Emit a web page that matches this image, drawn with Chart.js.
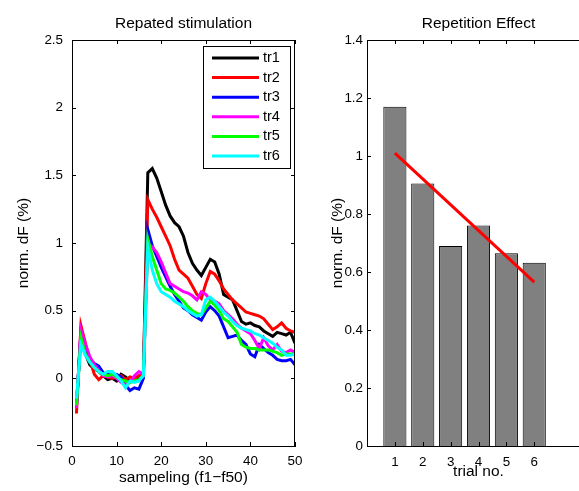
<!DOCTYPE html>
<html>
<head>
<meta charset="utf-8">
<script src="https://cdn.jsdelivr.net/npm/chart.js@4.4.0/dist/chart.umd.min.js"></script>
<style>
  html, body { margin: 0; padding: 0; background: #fff; overflow: hidden; }
  #wrap { position: relative; width: 579px; height: 491px; overflow: hidden; }
  #left { position: absolute; left: 0; top: 0; }
  #right { position: absolute; left: 327px; top: 0; }
</style>
</head>
<body>
<div id="wrap">
  <canvas id="left" width="327" height="491"></canvas>
  <canvas id="right" width="264" height="491"></canvas>
</div>
<script>
// ---- left panel: repeated stimulation traces ----
const frames = [1,2,3,4,5,6,7,8,9,10,11,12,13,14,15,16,17,18,19,20,21,22,23,24,25,
                26,27,28,29,30,31,32,33,34,35,36,37,38,39,40,41,42,43,44,45,46,47,48,49,50];

const tr1 = [-0.20,0.33,0.18,0.10,0.07,0.05,0.02,-0.01,0.00,-0.02,0.03,0.01,-0.02,-0.02,0.00,0.02,
             1.52,1.55,1.48,1.38,1.28,1.20,1.15,1.12,1.05,0.93,0.85,0.80,0.76,0.82,0.88,0.86,0.77,
             0.62,0.60,0.58,0.50,0.42,0.40,0.41,0.39,0.38,0.35,0.33,0.31,0.34,0.33,0.32,0.34,0.26];
const tr2 = [-0.26,0.39,0.26,0.14,0.03,-0.01,0.02,0.01,0.00,0.01,0.02,-0.01,0.01,0.00,0.02,0.03,
             1.32,1.25,1.19,1.12,1.05,0.98,0.88,0.80,0.77,0.74,0.68,0.62,0.59,0.70,0.79,0.77,0.72,
             0.66,0.62,0.58,0.55,0.52,0.49,0.48,0.47,0.46,0.44,0.40,0.36,0.38,0.41,0.37,0.35,0.34];
const tr3 = [-0.20,0.33,0.22,0.14,0.11,0.09,0.04,0.03,0.02,0.03,0.01,-0.05,-0.09,-0.07,-0.08,0.00,
             1.10,0.98,0.90,0.82,0.75,0.68,0.62,0.57,0.52,0.50,0.47,0.45,0.43,0.49,0.53,0.50,0.46,
             0.38,0.30,0.31,0.32,0.28,0.25,0.18,0.16,0.25,0.22,0.19,0.17,0.14,0.13,0.13,0.14,0.10];
const tr4 = [-0.22,0.36,0.25,0.16,0.10,0.06,0.02,0.01,0.02,0.00,-0.03,-0.05,-0.03,0.02,0.05,0.03,
             1.00,0.97,0.93,0.86,0.78,0.70,0.68,0.66,0.64,0.63,0.61,0.58,0.64,0.62,0.58,0.57,0.55,
             0.50,0.47,0.44,0.40,0.37,0.35,0.33,0.28,0.22,0.30,0.24,0.21,0.25,0.20,0.19,0.21,0.19];
const tr5 = [-0.20,0.30,0.18,0.12,0.08,0.05,0.03,0.02,0.03,0.01,-0.01,-0.02,-0.03,-0.02,-0.01,0.02,
             1.03,0.90,0.80,0.70,0.66,0.65,0.63,0.60,0.57,0.53,0.50,0.48,0.47,0.52,0.57,0.54,0.50,
             0.44,0.42,0.38,0.34,0.25,0.23,0.22,0.22,0.21,0.21,0.21,0.20,0.19,0.17,0.18,0.18,0.18];
const tr6 = [-0.15,0.25,0.17,0.12,0.08,0.05,0.03,0.05,0.05,0.02,-0.02,-0.07,-0.02,-0.03,-0.02,0.02,
             0.97,0.80,0.70,0.64,0.62,0.60,0.57,0.55,0.53,0.50,0.48,0.46,0.47,0.58,0.60,0.57,0.53,
             0.49,0.46,0.42,0.39,0.37,0.36,0.35,0.33,0.32,0.30,0.28,0.26,0.23,0.21,0.17,0.17,0.18];

const traceNames = ['tr1', 'tr2', 'tr3', 'tr4', 'tr5', 'tr6'];
const traces = [tr1, tr2, tr3, tr4, tr5, tr6];
const traceColors = ['#000000', '#ff0000', '#0000ff', '#ff00ff', '#00ff00', '#00ffff'];

const leftXTicks = [0, 10, 20, 30, 40, 50];
const leftYTicks = [-0.5, 0, 0.5, 1, 1.5, 2, 2.5];
const leftYLabels = ['\u22120.5', '0', '0.5', '1', '1.5', '2', '2.5'];

// ---- right panel: repetition effect ----
const trials = [1, 2, 3, 4, 5, 6];
const effect = [1.17, 0.905, 0.69, 0.76, 0.665, 0.632];
const fitX = [1, 6];
const fitY = [1.01, 0.565];
const rightYTicks = [0, 0.2, 0.4, 0.6, 0.8, 1, 1.2, 1.4];
const rightYLabels = ['0', '0.2', '0.4', '0.6', '0.8', '1', '1.2', '1.4'];

const FONT = '"Liberation Sans", Arial, sans-serif';
Chart.defaults.font.family = FONT;
Chart.defaults.font.size = 13.4;
Chart.defaults.color = '#000';

const labelFont = { size: 15.5 };

// axes box with inward ticks, like matlab
const matlabBox = {
    id: 'matlabBox',
    afterDatasetsDraw(chart) {
        const { ctx, chartArea: a, scales } = chart;
        const len = 4;
        ctx.save();
        ctx.strokeStyle = '#000';
        ctx.lineWidth = 1;
        ctx.beginPath();
        ctx.moveTo(a.left, a.top + 0.5);
        ctx.lineTo(a.right, a.top + 0.5);
        ctx.moveTo(a.right - 0.5, a.top);
        ctx.lineTo(a.right - 0.5, a.bottom);
        scales.x.ticks.forEach(t => {
            const px = Math.round(scales.x.getPixelForValue(t.value)) + 0.5;
            ctx.moveTo(px, a.bottom); ctx.lineTo(px, a.bottom - len);
            ctx.moveTo(px, a.top); ctx.lineTo(px, a.top + len);
        });
        scales.y.ticks.forEach(t => {
            const py = Math.round(scales.y.getPixelForValue(t.value)) + 0.5;
            ctx.moveTo(a.left, py); ctx.lineTo(a.left + len, py);
            ctx.moveTo(a.right, py); ctx.lineTo(a.right - len, py);
        });
        ctx.stroke();
        ctx.restore();
    }
};

const panelTitle = {
    id: 'panelTitle',
    afterDraw(chart, args, opts) {
        const { ctx, chartArea: a } = chart;
        ctx.save();
        ctx.font = '15.5px ' + FONT;
        ctx.fillStyle = '#000';
        ctx.textAlign = 'center';
        ctx.textBaseline = 'alphabetic';
        ctx.fillText(opts.text, (a.left + a.right) / 2, 28);
        ctx.restore();
    }
};

// boxed legend in the upper right corner
const boxLegend = {
    id: 'boxLegend',
    afterDraw(chart) {
        const { ctx, chartArea: a } = chart;
        const x0 = a.right - 92, y0 = a.top + 6, w = 87, h = 122;
        ctx.save();
        ctx.fillStyle = '#fff';
        ctx.fillRect(x0, y0, w, h);
        ctx.strokeStyle = '#000';
        ctx.lineWidth = 1;
        ctx.strokeRect(x0 + 0.5, y0 + 0.5, w, h);
        ctx.font = '14.5px ' + FONT;
        ctx.textBaseline = 'middle';
        ctx.textAlign = 'left';
        traceNames.forEach((name, i) => {
            const y = y0 + 12 + i * 19.6;
            ctx.strokeStyle = traceColors[i];
            ctx.lineWidth = 3;
            ctx.beginPath();
            ctx.moveTo(x0 + 9, y);
            ctx.lineTo(x0 + 56, y);
            ctx.stroke();
            ctx.fillStyle = '#000';
            ctx.fillText(name, x0 + 60, y);
        });
        ctx.restore();
    }
};

new Chart(document.getElementById('left'), {
    type: 'line',
    data: {
        datasets: traces.map((vals, i) => ({
            label: traceNames[i],
            data: frames.map((f, k) => ({ x: f, y: vals[k] })),
            borderColor: traceColors[i],
            borderWidth: 3,
            pointRadius: 0,
            tension: 0,
            fill: false,
            order: traces.length - i
        }))
    },
    options: {
        responsive: false,
        animation: false,
        layout: { padding: { top: 40, right: 32, bottom: 0, left: 0 } },
        plugins: {
            legend: { display: false },
            tooltip: { enabled: false },
            panelTitle: { text: 'Repated stimulation' }
        },
        scales: {
            x: {
                type: 'linear',
                min: 0,
                max: 50,
                afterBuildTicks: s => { s.ticks = leftXTicks.map(v => ({ value: v })); },
                afterFit: s => { s.height = 45; },
                grid: { display: false, drawTicks: false },
                border: { display: true, color: '#000', width: 1 },
                ticks: { padding: 7, maxRotation: 0, autoSkip: false },
                title: { display: true, text: 'sampeling (f1\u2212f50)', font: labelFont, padding: { top: 0, bottom: 4 } }
            },
            y: {
                min: -0.5,
                max: 2.5,
                afterBuildTicks: s => { s.ticks = leftYTicks.map(v => ({ value: v })); },
                afterFit: s => { s.width = 72; },
                grid: { display: false, drawTicks: false },
                border: { display: true, color: '#000', width: 1 },
                ticks: { padding: 9, callback: (v, i) => leftYLabels[i] },
                title: { display: true, text: 'norm. dF (%)', font: labelFont, padding: { top: 14, bottom: 0 } }
            }
        }
    },
    plugins: [matlabBox, panelTitle, boxLegend]
});

new Chart(document.getElementById('right'), {
    type: 'bar',
    data: {
        datasets: [
            {
                type: 'line',
                data: fitX.map((x, i) => ({ x: x, y: fitY[i] })),
                borderColor: '#ff0000',
                borderWidth: 3,
                pointRadius: 0,
                order: 0
            },
            {
                type: 'bar',
                data: trials.map((t, i) => ({ x: t, y: effect[i] })),
                backgroundColor: '#808080',
                borderColor: '#000',
                borderWidth: 1,
                barPercentage: 0.83,
                categoryPercentage: 1,
                order: 1
            }
        ]
    },
    options: {
        responsive: false,
        animation: false,
        layout: { padding: { top: 40, right: 1, bottom: 0, left: 0 } },
        plugins: {
            legend: { display: false },
            tooltip: { enabled: false },
            panelTitle: { text: 'Repetition Effect' }
        },
        scales: {
            x: {
                type: 'linear',
                min: 0,
                max: 8,
                offset: false,
                afterBuildTicks: s => { s.ticks = trials.map(v => ({ value: v })); },
                afterFit: s => { s.height = 45; },
                grid: { display: false, drawTicks: false, offset: false },
                border: { display: true, color: '#000', width: 1 },
                ticks: { padding: 8, maxRotation: 0, autoSkip: false },
                title: { display: true, text: 'trial no.', font: labelFont, padding: { top: 0, bottom: 10 } }
            },
            y: {
                min: 0,
                max: 1.4,
                afterBuildTicks: s => { s.ticks = rightYTicks.map(v => ({ value: v })); },
                afterFit: s => { s.width = 40; },
                grid: { display: false, drawTicks: false },
                border: { display: true, color: '#000', width: 1 },
                ticks: { padding: 4, callback: (v, i) => rightYLabels[i] },
                title: { display: true, text: 'norm. dF (%)', font: labelFont, padding: { top: 1, bottom: 0 } }
            }
        }
    },
    plugins: [matlabBox, panelTitle]
});
</script>
</body>
</html>
